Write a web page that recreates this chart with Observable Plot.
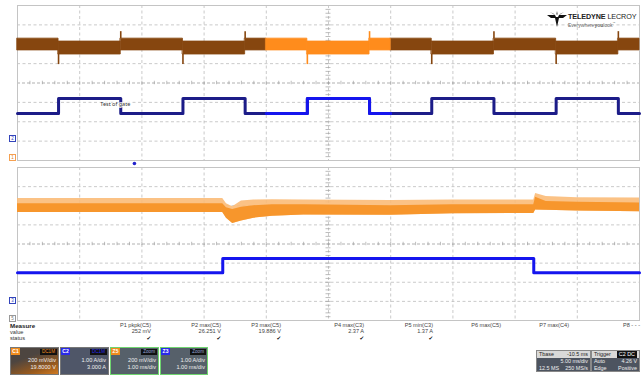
<!DOCTYPE html>
<html><head><meta charset="utf-8">
<script src="https://cdn.jsdelivr.net/npm/d3@7"></script>
<script src="https://cdn.jsdelivr.net/npm/@observablehq/plot@0.6"></script>
<style>
body{margin:0;background:#fff;font-family:"Liberation Sans",Arial,sans-serif;}
#wrap{position:relative;width:642px;height:375px;overflow:hidden;background:#fff}
.abs{position:absolute;white-space:nowrap}
#top,#bot{position:absolute;left:0}
#top{top:0}
#bot{top:162px}
.m{font-size:5.6px;line-height:6px;color:#333}
.b{font-weight:bold;font-size:6.2px;color:#222}
.col{position:absolute;text-align:right;font-size:5.6px;line-height:6.3px;color:#444}
.chk{font-family:"DejaVu Sans";font-size:5.5px;color:#222}
.cbox{position:absolute;top:347px;height:28px;box-sizing:border-box;border:1px solid #777;background:#525862;color:#eee;font-size:5.6px;line-height:6.6px;overflow:hidden}
.cbox.z{border:1.5px solid #6fd46f}
.tag{position:absolute;left:0;top:0;width:9px;height:7px;font-size:5px;line-height:7px;text-align:center;color:#fff;font-weight:bold}
.htag{position:absolute;right:1px;top:1px;padding:0 2px;height:5.5px;font-size:4.6px;line-height:5.5px;background:#111}
.ln{position:absolute;right:2px;text-align:right}
.rbox{position:absolute;top:350px;height:22px;box-sizing:border-box;background:#4d5460;color:#eee;font-size:5.4px;line-height:7px;border:1px solid #888}
.rhead{position:absolute;left:0;right:0;top:0;height:7px;background:#d9d9d9;color:#222}
.cm{position:absolute;left:9px;width:7px;height:7px;box-sizing:border-box;border:1px solid;font-size:4.5px;line-height:5px;text-align:center;background:#fff}
</style></head><body>
<div id="wrap">
  <div id="top"></div>
  <div id="bot"></div>
</div>
<script>
// ---------------- DATA ----------------
// Top (5 ms/div) time base, ms ; amplitudes in screen divisions
const topTimeDomain = [0, 50];
const zoomWindow = [20, 30];                 // part of the top traces expanded below
const gateEdges = [3.3, 8.3, 13.3, 18.3, 23.3, 28.3, 33.3, 38.3, 43.3, 48.3]; // rise, fall, rise...
const gateLevels = [-1.57, -0.8];            // gate low, gate high
const vBandGateLow  = [1.68, 2.29];          // voltage band (lo, hi) while gate low
const vBandGateHigh = [1.47, 2.14];          // voltage band (lo, hi) while gate high
const vSpikeOnRise = 0.95;
const vSpikeOnFall = 2.65;
const triggerTime = [9.4];
const annotations = [{label: "Test of gate", t: 6.65, level: -1.1}];

// Zoom (1 ms/div) time base
const zoomTimeDomain = [0, 10];
const zGateEdges = [3.3, 8.3];
const zGateLevels = [-1.5, -0.76];
const zT       = [0,    3.3,  3.36, 3.46, 3.6,  3.8,  4.1,  4.6,  6.0,  7.0,  8.3,  8.33, 8.5,  9.0,  10];
const zBodyLo  = [1.65, 1.65, 1.35, 1.07, 1.2,  1.35, 1.45, 1.52, 1.5,  1.58, 1.6,  1.78, 1.76, 1.72, 1.68];
const zBodyHi  = [2.1,  2.1,  1.9,  1.8,  1.92, 2.0,  2.05, 2.05, 2.0,  2.05, 2.05, 2.45, 2.22, 2.18, 2.15];
const zSpikeHi = [2.38, 2.38, 2.1,  1.95, 2.25, 2.3,  2.32, 2.3,  2.28, 2.3,  2.3,  2.64, 2.48, 2.42, 2.4];

// Measurement table
const measureLabels = ["P1 pkpk(C5)", "P2 max(C5)", "P3 max(C5)", "P4 max(C3)", "P5 min(C3)", "P6 max(C5)", "P7 max(C4)", "P8 - - -"];
const measureValues = ["252 mV", "26.251 V", "19.886 V", "2.37 A", "1.37 A", "", "", ""];
const measureStatus = [true, true, true, true, true, false, false, false];

// Channel descriptor boxes
const chanTags  = ["C1", "C2", "Z5", "Z3"];
const chanHeads = ["DC1M", "DC1M", "Zoom", "Zoom"];
const chanLine1 = ["200 mV/div", "1.00 A/div", "200 mV/div", "1.00 A/div"];
const chanLine2 = ["19.8000 V", "3.000 A", "1.00 ms/div", "1.00 ms/div"];
const chanIsZoom = [false, false, true, true];
const chanIsVolt = [true, false, true, false];

const timebaseRows = [["Tbase", "-10.5 ms"], ["", "5.00 ms/div"], ["12.5 MS", "250 MS/s"]];
const triggerRows  = [["Trigger", "C2 DC"], ["Auto", "4.26 V"], ["Edge", "Positive"]];

// ---------------- COLOURS ----------------
const BROWN = "#86460f", ORANGE = "#ff8c1c", NAVY = "#1c1c88", BLUE = "#1515ee";
const ZORANGE_BODY = "#f7962c", ZORANGE_SPIKE = "#fbbb78";

// ---------------- HELPERS ----------------
function gridMarks(domain) {
  const [x0, x1] = domain, dx = (x1 - x0) / 10;
  const xMajor = d3.range(1, 10).map(i => x0 + i * dx);
  const yMajor = [-3, -2, -1, 1, 2, 3];
  const xMinor = d3.range(1, 50).map(i => x0 + i * dx / 5);
  const yMinor = d3.range(-19, 20).map(i => i / 5);
  const cx = x0 + 5 * dx;
  return [
    Plot.ruleX(xMajor, {stroke: "#bdbdbd", strokeDasharray: "3,2.5", strokeWidth: 0.8}),
    Plot.ruleY(yMajor, {stroke: "#bdbdbd", strokeDasharray: "3,2.5", strokeWidth: 0.8}),
    Plot.ruleY([0], {stroke: "#a8a8a8", strokeDasharray: "3,2", strokeWidth: 0.9}),
    Plot.ruleX(xMinor, {y1: -0.09, y2: 0.09, stroke: "#a0a0a0", strokeWidth: 0.7}),
    Plot.ruleY(yMinor, {x1: cx - dx * 0.04, x2: cx + dx * 0.04, stroke: "#a0a0a0", strokeWidth: 0.7}),
    Plot.frame({stroke: "#c4c4c4", strokeWidth: 1})
  ];
}
function levelAt(edges, levels, t) {
  const n = edges.filter(e => e <= t).length;
  return levels[n % 2];
}
function stepPoints(edges, levels, domain) {
  const pts = [{t: domain[0], v: levels[0]}];
  edges.forEach((e, k) => {
    pts.push({t: e, v: levels[k % 2]});
    pts.push({t: e, v: levels[(k + 1) % 2]});
  });
  pts.push({t: domain[1], v: levelAt(edges, levels, domain[1])});
  return pts;
}

// ---- top voltage band segments ----
const bounds = [topTimeDomain[0], ...gateEdges, topTimeDomain[1]];
const bandRows = [];
let segId = 0;
for (let i = 0; i < bounds.length - 1; i++) {
  const band = i % 2 === 0 ? vBandGateLow : vBandGateHigh;
  const cuts = [bounds[i], ...zoomWindow.filter(z => z > bounds[i] && z < bounds[i + 1]), bounds[i + 1]];
  for (let j = 0; j < cuts.length - 1; j++) {
    const mid = (cuts[j] + cuts[j + 1]) / 2;
    const inZoom = mid > zoomWindow[0] && mid < zoomWindow[1];
    bandRows.push({t: cuts[j], lo: band[0], hi: band[1], seg: segId, zoom: inZoom});
    bandRows.push({t: cuts[j + 1], lo: band[0], hi: band[1], seg: segId, zoom: inZoom});
    segId++;
  }
}
const spikes = gateEdges.map((e, k) => {
  const rise = k % 2 === 0;
  return {
    t: e,
    from: rise ? vBandGateHigh[0] : vBandGateLow[1],
    to: rise ? vSpikeOnRise : vSpikeOnFall,
    zoom: e > zoomWindow[0] && e < zoomWindow[1]
  };
});
const gatePts = stepPoints(gateEdges, gateLevels, topTimeDomain);
const gateZoomPts = [
  {t: zoomWindow[0], v: levelAt(gateEdges, gateLevels, zoomWindow[0])},
  ...gatePts.filter(p => p.t > zoomWindow[0] && p.t < zoomWindow[1]),
  {t: zoomWindow[1], v: levelAt(gateEdges, gateLevels, zoomWindow[1])}
];

const topPlot = Plot.plot({
  width: 642, height: 166,
  marginLeft: 17, marginRight: 3, marginTop: 5, marginBottom: 6,
  x: {domain: topTimeDomain, axis: null},
  y: {domain: [-4, 4], axis: null},
  style: {background: "transparent", overflow: "visible"},
  marks: [
    ...gridMarks(topTimeDomain),
    Plot.areaY(bandRows.filter(d => !d.zoom), {x: "t", y1: "lo", y2: "hi", z: "seg", fill: BROWN, stroke: BROWN, strokeWidth: 0.8}),
    Plot.areaY(bandRows.filter(d => d.zoom), {x: "t", y1: "lo", y2: "hi", z: "seg", fill: ORANGE, stroke: ORANGE, strokeWidth: 0.8}),
    Plot.ruleX(spikes, {x: "t", y1: "from", y2: "to", stroke: d => d.zoom ? ORANGE : BROWN, strokeWidth: 1.6}),
    Plot.line(gatePts, {x: "t", y: "v", stroke: NAVY, strokeWidth: 3}),
    Plot.line(gateZoomPts, {x: "t", y: "v", stroke: BLUE, strokeWidth: 3}),
    Plot.text(annotations, {x: "t", y: "level", text: "label", textAnchor: "start", fontSize: 5.5, fill: "#333", stroke: "white", strokeWidth: 1.5, paintOrder: "stroke"}),
    Plot.dot(triggerTime, {x: d => d, y: () => -4, dy: 3, r: 1.8, fill: "#2222cc"})
  ]
});
document.getElementById("top").append(topPlot);

// ---- bottom (zoom) ----
const zRows = zT.map((t, i) => ({t, lo: zBodyLo[i], hi: zBodyHi[i], sp: zSpikeHi[i]}));
const zGatePts = stepPoints(zGateEdges, zGateLevels, zoomTimeDomain);
const botPlot = Plot.plot({
  width: 642, height: 163,
  marginLeft: 17, marginRight: 3, marginTop: 5, marginBottom: 5,
  x: {domain: zoomTimeDomain, axis: null},
  y: {domain: [-4, 4], axis: null},
  style: {background: "transparent", overflow: "visible"},
  marks: [
    ...gridMarks(zoomTimeDomain),
    Plot.areaY(zRows, {x: "t", y1: "lo", y2: "sp", fill: ZORANGE_SPIKE, fillOpacity: 0.9}),
    Plot.areaY(zRows, {x: "t", y1: "lo", y2: "hi", fill: ZORANGE_BODY}),
    Plot.ruleX(zGateEdges.slice(0, 1), {y1: zGateLevels[0], y2: zGateLevels[1], stroke: "#8888aa", strokeWidth: 0.8}),
    Plot.line(zGatePts, {x: "t", y: "v", stroke: BLUE, strokeWidth: 3})
  ]
});
document.getElementById("bot").append(botPlot);

// ---------------- HTML overlays ----------------
const wrap = document.getElementById("wrap");
function add(html) { wrap.insertAdjacentHTML("beforeend", html); }

// channel markers at left edge
add(`<div class="cm" style="top:135px;left:9px;border-color:#3344bb;color:#3344bb">2</div>`);
add(`<div class="cm" style="top:154px;left:9px;border-color:#f5a050;color:#e08020">1</div>`);
add(`<div class="cm" style="top:297px;left:9px;border-color:#3344bb;color:#3344bb">3</div>`);
add(`<div class="cm" style="top:315px;left:9px;border-color:#999;color:#777">5</div>`);

// logo
add(`<svg class="abs" style="left:547px;top:11px" width="20" height="16" viewBox="0 0 20 16">
<path d="M0,4 L8,4 L9,6 L11,6 L12,4 L20,4 L16,7 L12,7 L10,16 L8,7 L4,7 Z" fill="#111"/>
<path d="M3,1 L8,3.5 L7,3.5 Z M17,1 L12,3.5 L13,3.5 Z M10,0 L10.6,3.5 L9.4,3.5 Z" fill="#111"/></svg>`);
add(`<div class="abs" style="left:568px;top:12px;font-size:7.2px;font-weight:bold;letter-spacing:-0.1px;color:#222">TELEDYNE <span style="font-weight:normal">LECROY</span></div>`);
add(`<div class="abs" style="left:568px;top:20.5px;font-size:5px;color:#666">Everywhere<b>you</b>look<sup style="font-size:3px">™</sup></div>`);

// measurement table
add(`<div class="abs b" style="left:10px;top:322px">Measure</div>`);
add(`<div class="abs m" style="left:10px;top:329px">value</div>`);
add(`<div class="abs m" style="left:10px;top:335px">status</div>`);
const colRight = [151, 221, 281, 364, 433, 501, 569, 640];
measureLabels.forEach((lab, i) => {
  add(`<div class="col" style="right:${642 - colRight[i]}px;top:322px">${lab}<br>${measureValues[i] || "&nbsp;"}<br><span class="chk">${measureStatus[i] ? "✔" : "&nbsp;"}</span></div>`);
});

// channel boxes
const boxLeft = [10, 60, 110, 160], boxW = [49, 49, 49, 48];
chanTags.forEach((tag, i) => {
  const tc = chanIsVolt[i] ? "#f08c1e" : "#2a2ae8";
  const bg = i === 0 ? "linear-gradient(160deg,#4d4540 35%,#9a5a1c 75%,#d07a22)" : (chanIsZoom[i] ? "#56606a" : "#4f5668");
  add(`<div class="cbox${chanIsZoom[i] ? " z" : ""}" style="left:${boxLeft[i]}px;width:${boxW[i]}px;background:${bg}">
    <div class="tag" style="background:${tc}">${tag}</div>
    <div class="htag" style="color:${chanIsZoom[i] ? "#9ad" : tc}">${chanHeads[i]}</div>
    <div class="ln" style="top:9px">${chanLine1[i]}</div>
    <div class="ln" style="top:16px">${chanLine2[i]}</div>
  </div>`);
});

// timebase / trigger boxes
function rbox(left, width, rows) {
  let h = `<div class="rbox" style="left:${left}px;width:${width}px"><div class="rhead"></div>`;
  rows.forEach((r, i) => {
    const col = i === 0 ? "#222" : "#eee";
    h += `<div class="abs" style="left:2px;top:${i * 7}px;color:${col}">${r[0]}</div>`;
    const tagStyle = (i === 0 && r === triggerRows[0]) ? "background:#111;color:#fff;padding:0 2px;" : `color:${col};`;
    h += `<div class="abs" style="right:2px;top:${i * 7}px;${tagStyle}">${r[1]}</div>`;
  });
  return h + `</div>`;
}
add(rbox(536, 55, timebaseRows));
add(rbox(591, 49, triggerRows));
</script>
</body></html>
